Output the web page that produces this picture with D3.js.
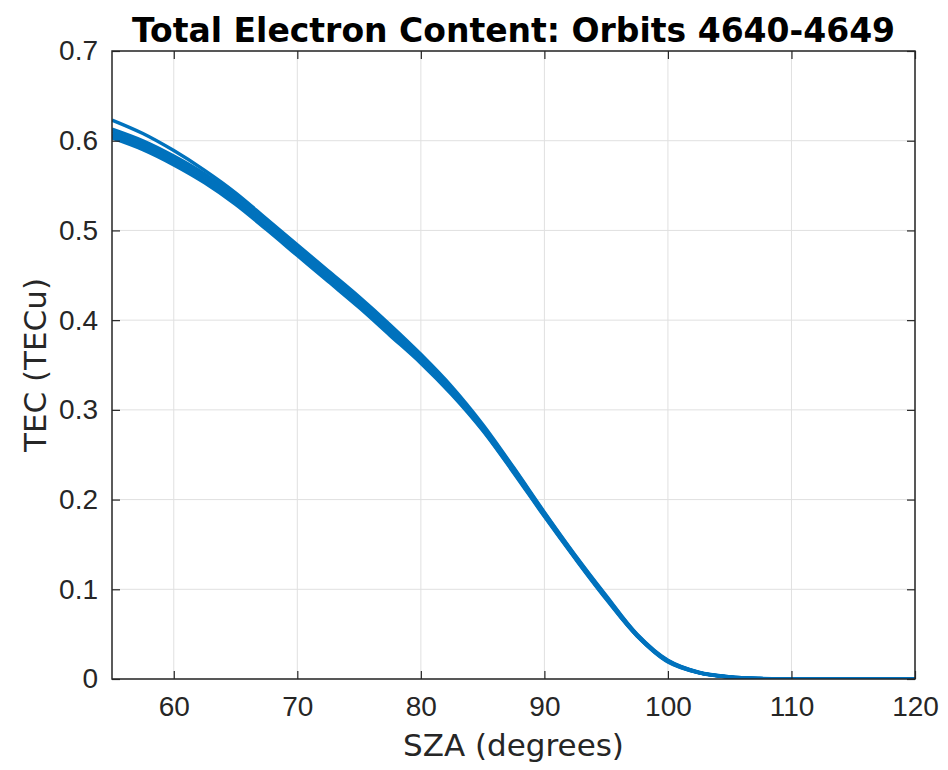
<!DOCTYPE html>
<html>
<head>
<meta charset="utf-8">
<script src="https://cdn.jsdelivr.net/npm/d3@7"></script>
<style>
    body { margin: 0; background: #fff; }
    svg { font-family: "DejaVu Sans", sans-serif; }
</style>
</head>
<body>
<div id="chart"></div>
<script>
// solar zenith angle samples (degrees)
const sza = [55, 57.5, 60, 62.5, 65, 67.5, 70, 72.5, 75, 77.5, 80, 82.5, 85, 87.5, 90, 92.5, 95, 97.5, 100, 102.5, 105, 107.5, 110, 120];

// TEC per orbit (TECu)
const orbitA = [0.623, 0.608, 0.589, 0.567, 0.542, 0.513, 0.484, 0.455, 0.426, 0.395, 0.362, 0.326, 0.284, 0.236, 0.186, 0.138, 0.093, 0.050, 0.021, 0.0077, 0.0025, 0.0006, 0.0001, 0];
const orbitB = [0.613, 0.600, 0.583, 0.563, 0.539, 0.511, 0.482, 0.453, 0.424, 0.393, 0.360, 0.324, 0.282, 0.235, 0.185, 0.137, 0.092, 0.0495, 0.0203, 0.0074, 0.0023, 0.0005, 0.0001, 0];
const orbitC = [0.610, 0.597, 0.580, 0.560, 0.536, 0.508, 0.479, 0.450, 0.421, 0.390, 0.358, 0.322, 0.281, 0.234, 0.184, 0.136, 0.091, 0.049, 0.020, 0.0072, 0.0022, 0.0005, 0.0001, 0];
const orbitD = [0.607, 0.594, 0.577, 0.557, 0.533, 0.505, 0.476, 0.447, 0.418, 0.387, 0.355, 0.320, 0.279, 0.232, 0.183, 0.135, 0.090, 0.0485, 0.0197, 0.0071, 0.0021, 0.0005, 0.0001, 0];
const orbitE = [0.605, 0.592, 0.575, 0.555, 0.531, 0.503, 0.474, 0.445, 0.416, 0.385, 0.353, 0.318, 0.278, 0.231, 0.182, 0.135, 0.090, 0.048, 0.0195, 0.0070, 0.0021, 0.0004, 0.0001, 0];
const orbitF = [0.603, 0.590, 0.573, 0.553, 0.529, 0.501, 0.472, 0.443, 0.414, 0.383, 0.352, 0.317, 0.277, 0.230, 0.181, 0.134, 0.089, 0.048, 0.019, 0.0068, 0.0020, 0.0004, 0.0001, 0];
const orbits = [orbitA, orbitB, orbitC, orbitD, orbitE, orbitF];

const xTicks = [60, 70, 80, 90, 100, 110, 120];
const yTicks = [0, 0.1, 0.2, 0.3, 0.4, 0.5, 0.6, 0.7];

const width = 948, height = 770;
const margin = { top: 51, right: 33, bottom: 91, left: 112 };
const axisColor = '#262626';

const svg = d3.select('#chart')
    .append('svg')
    .attr('width', width)
    .attr('height', height);

const xScale = d3.scaleLinear()
    .domain([55, 120])
    .range([margin.left, width - margin.right]);

const yScale = d3.scaleLinear()
    .domain([0, 0.7])
    .range([height - margin.bottom, margin.top]);

// grid
const grid = svg.append('g').attr('stroke', '#e0e0e0').attr('stroke-width', 1);
grid.selectAll('line.gx')
    .data(xTicks)
    .enter()
    .append('line')
    .attr('x1', d => xScale(d)).attr('x2', d => xScale(d))
    .attr('y1', yScale(0)).attr('y2', yScale(0.7));
grid.selectAll('line.gy')
    .data(yTicks)
    .enter()
    .append('line')
    .attr('x1', xScale(55)).attr('x2', xScale(120))
    .attr('y1', d => yScale(d)).attr('y2', d => yScale(d));

svg.append('clipPath')
    .attr('id', 'plotClip')
    .append('rect')
    .attr('x', xScale(55)).attr('y', yScale(0.7))
    .attr('width', xScale(120) - xScale(55))
    .attr('height', yScale(0) - yScale(0.7));

const line = d3.line()
    .x((d, i) => xScale(sza[i]))
    .y(d => yScale(d))
    .curve(d3.curveCatmullRom.alpha(0.5));

svg.append('g')
    .attr('clip-path', 'url(#plotClip)')
    .selectAll('path')
    .data(orbits)
    .enter()
    .append('path')
    .attr('d', line)
    .attr('fill', 'none')
    .attr('stroke', '#0072BD')
    .attr('stroke-width', 3.4)
    .attr('stroke-linejoin', 'round');

// axes, ticks pointing inward
function styleAxis(g) {
    g.select('.domain').remove();
    g.selectAll('.tick line').attr('stroke', axisColor).attr('stroke-width', 1.2);
    g.selectAll('.tick text').attr('font-size', 28).attr('fill', axisColor);
}

const xAxis = d3.axisBottom(xScale).tickValues(xTicks).tickSizeInner(-8).tickPadding(17).tickFormat(d3.format('d'));
svg.append('g')
    .attr('transform', `translate(0, ${yScale(0)})`)
    .call(xAxis)
    .call(styleAxis);

svg.append('g')
    .attr('transform', `translate(0, ${yScale(0.7)})`)
    .call(d3.axisTop(xScale).tickValues(xTicks).tickSizeInner(-8).tickFormat(''))
    .call(styleAxis);

const yAxis = d3.axisLeft(yScale).tickValues(yTicks).tickSizeInner(-8).tickPadding(14).tickFormat(d => d === 0 ? '0' : d3.format('.1f')(d));
svg.append('g')
    .attr('transform', `translate(${xScale(55)}, 0)`)
    .call(yAxis)
    .call(styleAxis);

svg.append('g')
    .attr('transform', `translate(${xScale(120)}, 0)`)
    .call(d3.axisRight(yScale).tickValues(yTicks).tickSizeInner(-8).tickFormat(''))
    .call(styleAxis);

// box
svg.append('rect')
    .attr('x', xScale(55)).attr('y', yScale(0.7))
    .attr('width', xScale(120) - xScale(55))
    .attr('height', yScale(0) - yScale(0.7))
    .attr('fill', 'none')
    .attr('stroke', axisColor)
    .attr('stroke-width', 1.5);

// labels
svg.append('text')
    .text('Total Electron Content: Orbits 4640-4649')
    .attr('x', (xScale(55) + xScale(120)) / 2)
    .attr('y', 42)
    .attr('text-anchor', 'middle')
    .attr('font-size', 33)
    .attr('font-weight', 'bold')
    .attr('fill', '#000');

svg.append('text')
    .text('SZA (degrees)')
    .attr('x', (xScale(55) + xScale(120)) / 2)
    .attr('y', 756)
    .attr('text-anchor', 'middle')
    .attr('font-size', 31)
    .attr('fill', axisColor);

svg.append('text')
    .text('TEC (TECu)')
    .attr('transform', 'rotate(-90)')
    .attr('x', -(yScale(0) + yScale(0.7)) / 2)
    .attr('y', 46)
    .attr('text-anchor', 'middle')
    .attr('font-size', 31)
    .attr('fill', axisColor);
</script>
</body>
</html>
